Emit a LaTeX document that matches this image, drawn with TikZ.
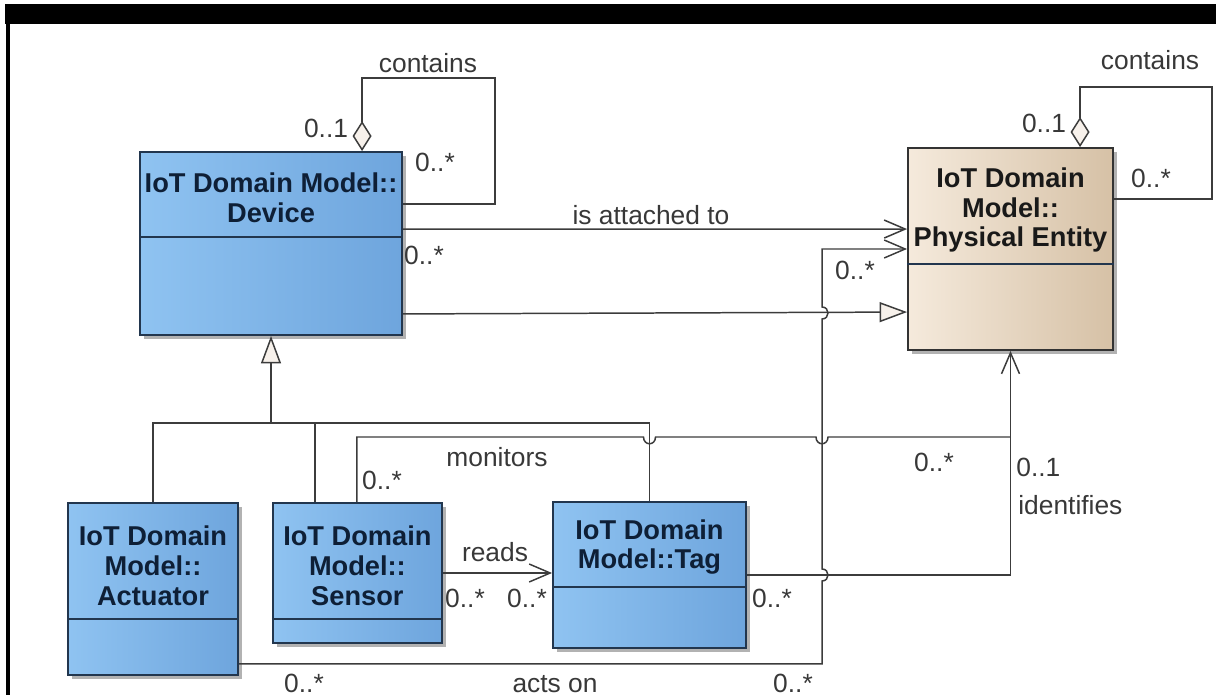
\documentclass[tikz,border=0pt]{standalone}
\usepackage{fontspec}
\setmainfont{Liberation Sans}
\usetikzlibrary{positioning}
\usetikzlibrary{calc}
\usetikzlibrary{arrows.meta}
\usetikzlibrary{shadows}
\definecolor{clsedge}{HTML}{22364E}
\definecolor{devleft}{HTML}{8FC3F1}
\definecolor{devlight}{HTML}{9ACCF8}
\definecolor{devdark}{HTML}{6EA5DD}
\definecolor{entleft}{HTML}{F5EADC}
\definecolor{entlight}{HTML}{F3E6D5}
\definecolor{entdark}{HTML}{D6C1A6}
\definecolor{wirecol}{HTML}{3C3C3C}
\definecolor{lbltext}{HTML}{383838}
\definecolor{tipfill}{HTML}{F7F1EB}
\definecolor{clstext}{HTML}{0E1F36}

\begin{document}
\begin{tikzpicture}[x=0.02cm, y=-0.02cm,
    cls/.style={draw=clsedge, line width=1.1pt,
        drop shadow={shadow xshift=2.5pt, shadow yshift=-2.5pt, opacity=0.3, fill=black}},
    devcls/.style={cls, left color=devleft, middle color=devlight, right color=devdark},
    entcls/.style={cls, draw=black!80, left color=entleft, middle color=entlight, right color=entdark},
    clsname/.style={font=\fontsize{15.5}{17}\selectfont\bfseries, text=clstext, align=center, inner sep=0pt},
    lbl/.style={font=\fontsize{15}{17}\selectfont, text=lbltext, inner sep=0pt},
    link/.style={draw=wirecol, line width=0.85pt},
    nav/.style={arrows={-Straight Barb[length=0.42cm, width=0.36cm]}},
    gen/.style={arrows={-Triangle[length=0.55cm, width=0.4cm, fill=tipfill]}},
    aggr/.style={arrows={Diamond[length=0.6cm, width=0.38cm, fill=tipfill]-}}]
    \useasboundingbox (0,0) rectangle (1216,695);
    \fill[black] (5,4) rectangle (1216,24);
    \fill[black] (6,4) rectangle (10,695);

    % classes
    \node [devcls, minimum width=5.24cm, minimum height=3.66cm] (device) at (271,243.5) {};
    \node [entcls, minimum width=4.10cm, minimum height=4.04cm] (entity) at (1010.5,249) {};
    \node [devcls, minimum width=3.40cm, minimum height=3.44cm] (actuator) at (153,589) {};
    \node [devcls, minimum width=3.38cm, minimum height=2.80cm, anchor=north west]
        (sensor) at ($(actuator.north east)+(33,0)$) {};
    \node [devcls, minimum width=3.86cm, minimum height=2.92cm] (tag) at (649.5,575) {};

    \node [clsname] (device-name) at ($(device.north)+(0,47)$) {IoT Domain Model::\\Device};
    \node [clsname, text=black!90] (entity-name) at ($(entity.north)+(0,63)$) {IoT Domain\\Model::\\Physical Entity};
    \node [clsname] (actuator-name) at ($(actuator.north)+(0,64)$) {IoT Domain\\Model::\\Actuator};
    \node [clsname] (sensor-name) at ($(sensor.north)+(0,64)$) {IoT Domain\\Model::\\Sensor};
    \node [clsname] (tag-name) at ($(tag.north)+(0,46)$) {IoT Domain\\Model::Tag};

    \foreach \cls/\dy in {device/86, entity/117, actuator/117, sensor/117, tag/86}
        \draw [clsedge, line width=1.1pt] ($(\cls.north west)+(0,\dy)$) -- ($(\cls.north east)+(0,\dy)$);

    % contains
    \draw [link, aggr] ($(device.north west)+(223,0)$) |- ++(133,-73) |- ($(device.north east)+(0,53)$);
    \draw [link, aggr] ($(entity.north west)+(173,0)$) |- ++(132,-60) |- ($(entity.north east)+(0,52)$);

    % is attached to, is a
    \draw [link, nav] ($(device.north east)+(0,78)$) -- ($(entity.north west)+(0,82)$);
    \draw [link, gen] ($(device.south east)+(0,-22)$) -- ($(entity.north west)+(0,165)$);

    % device subtypes
    \coordinate (gen-fork) at (271,423);
    \draw [link, gen] (gen-fork) -- (device.south);
    \draw [link] (actuator.north) |- (gen-fork) -| (tag.north);
    \draw [link] ($(sensor.north west)+(43,0)$) -- ++(0,-80);

    % reads
    \draw [link, nav] (sensor.east) -- (tag.west |- sensor.east);

    % monitors joins identifies
    \coordinate (idf-join) at (1010.5,437);
    \draw [link] ($(sensor.north west)+(85,0)$) |- (643.5,437)
        .. controls (643.5,446) and (655.5,446) .. (655.5,437) -- (816,437)
        .. controls (816,446) and (828,446) .. (828,437) -- (idf-join);
    \draw [link, nav] (tag.east) -| (entity.south);

    % acts on
    \draw [link, nav] ($(actuator.south east)+(0,-12)$) -| (822,581)
        .. controls (830,581) and (830,569) .. (822,569) -- (822,319)
        .. controls (830,319) and (830,307) .. (822,307) |- (entity.west);

    % labels
    \node [lbl] (dev-contains) at (428,63) {contains};
    \node [lbl] (dev-whole) at (326,128) {0..1};
    \node [lbl] (dev-part) at (435,162) {0..*};
    \node [lbl] (attached) at (651,215) {is attached to};
    \node [lbl] (attached-dev) at (424,255) {0..*};
    \node [lbl] (ent-contains) at (1150,60) {contains};
    \node [lbl] (ent-whole) at (1044,123) {0..1};
    \node [lbl] (ent-part) at (1151,178) {0..*};
    \node [lbl] (acts-ent) at (855,270) {0..*};
    \node [lbl] (monitors) at (497,457) {monitors};
    \node [lbl] (monitors-sen) at (382,480) {0..*};
    \node [lbl] (monitors-ent) at (934,462) {0..*};
    \node [lbl] (reads) at (495,552) {reads};
    \node [lbl] (reads-sen) at (465,598) {0..*};
    \node [lbl] (reads-tag) at (527,598) {0..*};
    \node [lbl] (idf-tag) at (772,598) {0..*};
    \node [lbl, anchor=west] (idf-ent) at (1016,467) {0..1};
    \node [lbl, anchor=west] (identifies) at (1018,505) {identifies};
    \node [lbl, anchor=base] (acts-act) at (304,692) {0..*};
    \node [lbl, anchor=base] (acts) at (555,692) {acts on};
    \node [lbl, anchor=base] (acts-ent2) at (793,692) {0..*};
\end{tikzpicture}
\end{document}
